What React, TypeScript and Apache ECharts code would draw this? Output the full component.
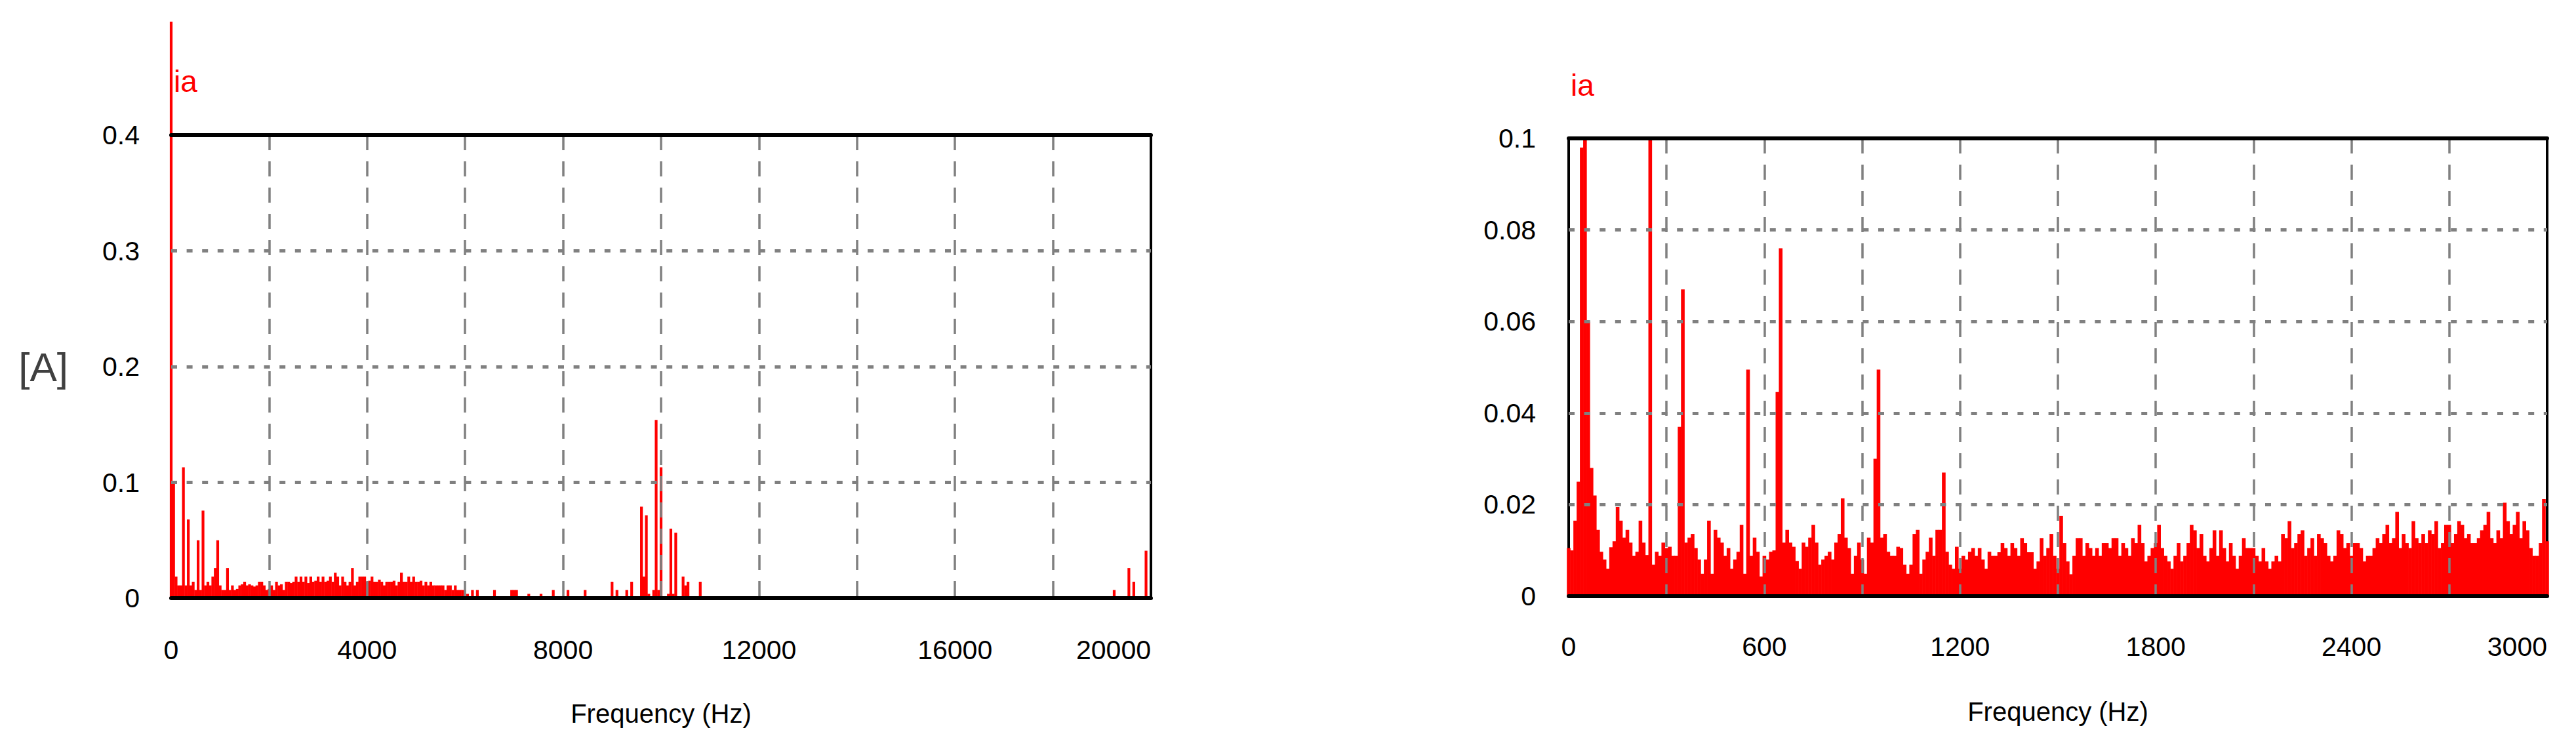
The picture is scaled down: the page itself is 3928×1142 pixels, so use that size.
import React, { useEffect, useRef } from "react";
import * as echarts from "echarts";

// ---------- data ----------
// Left spectrum: dense part, 50 Hz bins from 0 Hz
const leftStep = 50;
const leftDenseAmp = [
  0.498, 0.101, 0.0186, 0.011, 0.011, 0.113, 0.011, 0.068, 0.011, 0.0142,
  0.007, 0.05, 0.007, 0.0756, 0.011, 0.0142, 0.011, 0.0186, 0.026, 0.05,
  0.011, 0.007, 0.007, 0.026, 0.007, 0.011, 0.007, 0.008, 0.011, 0.012,
  0.0142, 0.011, 0.012, 0.011, 0.01, 0.011, 0.0142, 0.0142, 0.011, 0.007,
  0.008, 0.011, 0.007, 0.0142, 0.011, 0.012, 0.007, 0.0142, 0.0142, 0.013,
  0.0142, 0.0186, 0.0142, 0.0186, 0.0142, 0.0186, 0.013, 0.0186, 0.0142, 0.015,
  0.0186, 0.0142, 0.0186, 0.0142, 0.015, 0.0186, 0.0142, 0.022, 0.0186, 0.011,
  0.0186, 0.0142, 0.011, 0.0142, 0.026, 0.011, 0.0142, 0.0186, 0.0186, 0.0186,
  0.0142, 0.015, 0.0186, 0.0142, 0.0142, 0.016, 0.0142, 0.011, 0.0142, 0.0142,
  0.0142, 0.015, 0.011, 0.0142, 0.022, 0.0142, 0.0142, 0.0186, 0.0142, 0.0186,
  0.0142, 0.0142, 0.015, 0.011, 0.0142, 0.011, 0.0142, 0.011, 0.011, 0.011,
  0.011, 0.011, 0.007, 0.011, 0.011, 0.007, 0.011, 0.007, 0.007, 0.007,
];
// Left spectrum: isolated lines above 6 kHz
const leftSparseFreq = [
  6050, 6150, 6250, 6600, 6950, 7000, 7050, 7300, 7550, 7800, 8100, 8450,
  9000, 9100, 9300, 9400, 9600, 9650, 9700, 9750, 9850, 9900, 9950, 10000,
  10150, 10200, 10250, 10300, 10450, 10500, 10550, 10800,
  19250, 19550, 19650, 19900,
];
const leftSparseAmp = [
  0.0037, 0.007, 0.007, 0.007, 0.007, 0.007, 0.007, 0.0037, 0.0037, 0.007, 0.007, 0.007,
  0.0142, 0.007, 0.007, 0.0142, 0.079, 0.0186, 0.0716, 0.0037, 0.007, 0.154, 0.007, 0.113,
  0.0037, 0.06, 0.0037, 0.0565, 0.0186, 0.011, 0.0142, 0.0142,
  0.007, 0.026, 0.0142, 0.041,
];

// Right spectrum: 10 Hz bins, 0 .. 3000 Hz
const rightStep = 10;
const rightAmp = [
  0.0105, 0.01, 0.0165, 0.025, 0.098, 0.1, 0.06, 0.028, 0.022, 0.0145,
  0.0097, 0.008, 0.006, 0.0107, 0.012, 0.0195, 0.0165, 0.0128, 0.0145, 0.0117,
  0.0088, 0.0097, 0.0165, 0.0117, 0.009, 0.1, 0.0069, 0.0097, 0.0088, 0.0117,
  0.0105, 0.0108, 0.0088, 0.0088, 0.037, 0.067, 0.0117, 0.0128, 0.0136, 0.0105,
  0.008, 0.0049, 0.008, 0.0165, 0.0049, 0.0145, 0.0128, 0.0117, 0.0088, 0.0105,
  0.006, 0.008, 0.0097, 0.0156, 0.0049, 0.0495, 0.0088, 0.0128, 0.0097, 0.0043,
  0.0088, 0.008, 0.0097, 0.01, 0.0446, 0.076, 0.0117, 0.0145, 0.0117, 0.0108,
  0.0077, 0.006, 0.0117, 0.0108, 0.0128, 0.0156, 0.0117, 0.0069, 0.008, 0.0088,
  0.0097, 0.008, 0.0117, 0.0136, 0.0214, 0.0128, 0.0105, 0.0049, 0.0088, 0.0117,
  0.008, 0.0049, 0.0128, 0.0117, 0.03, 0.0495, 0.0128, 0.0136, 0.0097, 0.0088,
  0.0088, 0.0108, 0.0105, 0.0069, 0.0049, 0.0069, 0.0136, 0.0145, 0.0049, 0.008,
  0.0097, 0.0128, 0.0088, 0.0145, 0.0145, 0.027, 0.0097, 0.0069, 0.006, 0.0108,
  0.006, 0.0088, 0.008, 0.0097, 0.0105, 0.0088, 0.0105, 0.008, 0.006, 0.0097,
  0.0088, 0.0088, 0.0096, 0.0116, 0.0105, 0.0088, 0.0116, 0.0105, 0.0088, 0.0127,
  0.0116, 0.0096, 0.0096, 0.006, 0.0076, 0.0127, 0.0088, 0.0105, 0.0136, 0.0088,
  0.006, 0.0175, 0.0116, 0.0076, 0.0048, 0.0088, 0.0127, 0.0127, 0.0088, 0.0116,
  0.0105, 0.0088, 0.0105, 0.0088, 0.0116, 0.0116, 0.0105, 0.0127, 0.0127, 0.0088,
  0.0116, 0.0105, 0.0088, 0.0127, 0.0116, 0.0156, 0.0116, 0.0076, 0.0088, 0.0105,
  0.0116, 0.0156, 0.0105, 0.0088, 0.0076, 0.006, 0.0088, 0.0116, 0.0076, 0.0088,
  0.0116, 0.0156, 0.0144, 0.0105, 0.0136, 0.0088, 0.0076, 0.0105, 0.0144, 0.0088,
  0.0144, 0.0105, 0.0076, 0.0116, 0.0088, 0.006, 0.0088, 0.0127, 0.0105, 0.0105,
  0.0105, 0.0088, 0.0076, 0.0105, 0.0076, 0.006, 0.0076, 0.0088, 0.0076, 0.0136,
  0.0127, 0.0164, 0.0105, 0.0116, 0.0136, 0.0144, 0.0088, 0.0105, 0.0127, 0.0088,
  0.0136, 0.0127, 0.0116, 0.0088, 0.0076, 0.0088, 0.0144, 0.0136, 0.0105, 0.0116,
  0.0088, 0.0116, 0.0116, 0.0105, 0.0076, 0.0088, 0.0088, 0.0105, 0.0127, 0.0116,
  0.0136, 0.0156, 0.0116, 0.0127, 0.0184, 0.0105, 0.0136, 0.0116, 0.0105, 0.0164,
  0.0127, 0.0116, 0.0136, 0.0116, 0.0144, 0.0136, 0.0164, 0.0105, 0.0116, 0.0156,
  0.0156, 0.0116, 0.0136, 0.0164, 0.0156, 0.0127, 0.0136, 0.0116, 0.0116, 0.0127,
  0.0144, 0.0156, 0.0184, 0.0127, 0.0116, 0.0144, 0.0127, 0.0204, 0.0164, 0.0136,
  0.0156, 0.0184, 0.0127, 0.0164, 0.0144, 0.0105, 0.0088, 0.0088, 0.0116, 0.0212,
  0.012,
];

// ticks / texts
const leftXTicks = ["0", "4000", "8000", "12000", "16000", "20000"];
const leftYTicks = ["0", "0.1", "0.2", "0.3", "0.4"];
const rightXTicks = ["0", "600", "1200", "1800", "2400", "3000"];
const rightYTicks = ["0", "0.02", "0.04", "0.06", "0.08", "0.1"];
const seriesName = "ia";
const yUnit = "[A]";
const xName = "Frequency (Hz)";

const SANS = "'Liberation Sans', Arial, sans-serif";

export default function App() {
  const ref = useRef<HTMLDivElement>(null);

  useEffect(() => {
    if (!ref.current) return;
    const chart = echarts.init(ref.current, null, { renderer: "svg" });

    const leftData: number[][] = leftDenseAmp
      .map((v, i) => [i * leftStep, v])
      .concat(leftSparseFreq.map((f, i) => [f, leftSparseAmp[i]]));
    const rightData: number[][] = rightAmp.map((v, i) => [i * rightStep, v]);

    const hGrid = {
      show: true,
      showMinLine: false,
      showMaxLine: false,
      lineStyle: { color: "#808080", width: 5, type: [9, 14.6] },
    };
    const vGrid = {
      show: true,
      showMinLine: false,
      showMaxLine: false,
      lineStyle: { color: "#808080", width: 3.5, type: [23, 17] },
    };
    const tickFont = { fontSize: 41, fontFamily: SANS, color: "#000" };

    const bottomAxis = (gridIndex: number, max: number, interval: number, every: number, ticks: string[], margin: number) => ({
      gridIndex,
      type: "value",
      min: 0,
      max,
      interval,
      position: "bottom",
      z: 5,
      axisLine: { show: true, onZero: false, lineStyle: { color: "#000", width: 6 } },
      axisTick: { show: false },
      axisLabel: {
        ...tickFont,
        margin,
        verticalAlign: "middle",
        alignMaxLabel: "right",
        formatter: (v: number) => (Math.round(v) % every === 0 ? ticks[Math.round(v / every)] : ""),
      },
      splitLine: vGrid,
      name: xName,
      nameLocation: "middle",
      nameGap: 176,
      nameMoveOverlap: false,
      nameTextStyle: { fontSize: 40, fontFamily: SANS, color: "#000", verticalAlign: "middle" },
    });
    const topAxis = (gridIndex: number, max: number) => ({
      gridIndex,
      type: "value",
      min: 0,
      max,
      position: "top",
      z: 5,
      axisLine: { show: true, onZero: false, lineStyle: { color: "#000", width: 6 } },
      axisTick: { show: false },
      axisLabel: { show: false },
      splitLine: { show: false },
    });

    chart.setOption({
      animation: false,
      backgroundColor: "#ffffff",
      grid: [
        { left: 261, top: 206, width: 1494, height: 706, show: true, borderColor: "#000", borderWidth: 4, backgroundColor: "transparent", outerBoundsMode: "none" },
        { left: 2392, top: 211, width: 1492, height: 698, show: true, borderColor: "#000", borderWidth: 4, backgroundColor: "transparent", outerBoundsMode: "none" },
      ],
      xAxis: [
        bottomAxis(0, 20000, 2000, 4000, leftXTicks, 79),
        topAxis(0, 20000),
        bottomAxis(1, 3000, 300, 600, rightXTicks, 77),
        topAxis(1, 3000),
      ],
      yAxis: [
        {
          gridIndex: 0,
          type: "value",
          min: 0,
          max: 0.4,
          interval: 0.1,
          z: 5,
          axisLine: { show: false },
          axisTick: { show: false },
          axisLabel: { ...tickFont, margin: 48, formatter: (v: number) => leftYTicks[Math.round(v / 0.1)] },
          splitLine: hGrid,
          name: yUnit,
          nameLocation: "middle",
          nameRotate: 0,
          nameGap: 157,
          nameMoveOverlap: false,
          nameTextStyle: { fontSize: 62, fontFamily: SANS, color: "#404040", align: "right", verticalAlign: "middle" },
        },
        {
          gridIndex: 1,
          type: "value",
          min: 0,
          max: 0.1,
          interval: 0.02,
          z: 5,
          axisLine: { show: false },
          axisTick: { show: false },
          axisLabel: { ...tickFont, margin: 50, formatter: (v: number) => rightYTicks[Math.round(v / 0.02)] },
          splitLine: hGrid,
        },
      ],
      graphic: [
        { type: "text", x: 265, y: 124, style: { text: seriesName, fill: "#ff0000", fontSize: 46, fontFamily: SANS, verticalAlign: "middle" } },
        { type: "text", x: 2395, y: 130, style: { text: seriesName, fill: "#ff0000", fontSize: 46, fontFamily: SANS, verticalAlign: "middle" } },
      ],
      series: [
        {
          type: "bar",
          name: seriesName,
          xAxisIndex: 0,
          yAxisIndex: 0,
          data: leftData,
          barWidth: 4.2,
          clip: false,
          silent: true,
          itemStyle: { color: "#ff0000" },
        },
        {
          type: "bar",
          name: seriesName,
          xAxisIndex: 2,
          yAxisIndex: 1,
          data: rightData,
          barWidth: 5.6,
          clip: true,
          silent: true,
          itemStyle: { color: "#ff0000" },
        },
      ],
    });

    return () => chart.dispose();
  }, []);

  return (
    <div
      ref={ref}
      style={{ position: "absolute", left: 0, top: 0, width: 3928, height: 1142, background: "#ffffff" }}
    />
  );
}
